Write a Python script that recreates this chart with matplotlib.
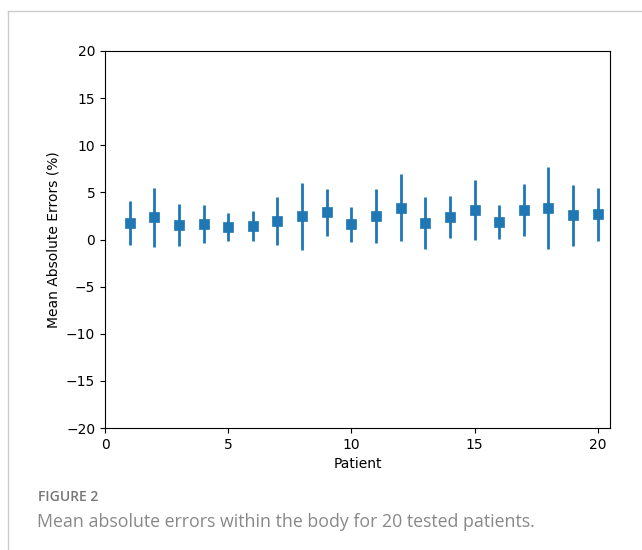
import numpy as np
import matplotlib.pyplot as plt
from matplotlib.lines import Line2D

# mean absolute error and its spread per patient
patients = np.arange(1, 21)
mae = [1.75, 2.35, 1.55, 1.62, 1.36, 1.43, 2.0, 2.46, 2.88, 1.6,
       2.53, 3.38, 1.74, 2.38, 3.15, 1.85, 3.15, 3.38, 2.58, 2.66]
err = [2.33, 3.1, 2.23, 2.02, 1.49, 1.56, 2.55, 3.57, 2.5, 1.88,
       2.85, 3.56, 2.74, 2.2, 3.17, 1.78, 2.78, 4.35, 3.22, 2.8]

fig = plt.figure(figsize=(6.42, 5.5), dpi=100)
ax = fig.add_axes([105 / 642, 1 - 428 / 550, 505 / 642, 377 / 550])

ax.errorbar(patients, mae, yerr=err, fmt='s', color='#1f77b4',
            markersize=7.5, markeredgewidth=0.5, elinewidth=2, capsize=0)

ax.set_xlim(0, 20.5)
ax.set_ylim(-20, 20)
ax.set_xticks([0, 5, 10, 15, 20])
ax.set_yticks(np.arange(-20, 21, 5))
ax.tick_params(labelsize=10)
ax.set_xlabel("Patient", fontsize=10)
ax.set_ylabel("Mean Absolute Errors (%)", fontsize=10)

# light card border around the figure
fig.add_artist(Line2D([8 / 642, 8 / 642], [0, 1 - 10.5 / 550],
                      color='#cccccc', lw=1, transform=fig.transFigure))
fig.add_artist(Line2D([8 / 642, 1], [1 - 10.5 / 550, 1 - 10.5 / 550],
                      color='#cccccc', lw=1, transform=fig.transFigure))

# caption
fig.text(38 / 642, 1 - 501 / 550, "FIGURE 2", fontsize=10, color='#777777',
         family='Open Sans', weight='semibold', va='baseline')
fig.text(37 / 642, 1 - 527 / 550,
         "Mean absolute errors within the body for 20 tested patients.",
         fontsize=12.8, color='#888888', family='Open Sans', va='baseline')

fig.savefig("out.png", dpi=100)
